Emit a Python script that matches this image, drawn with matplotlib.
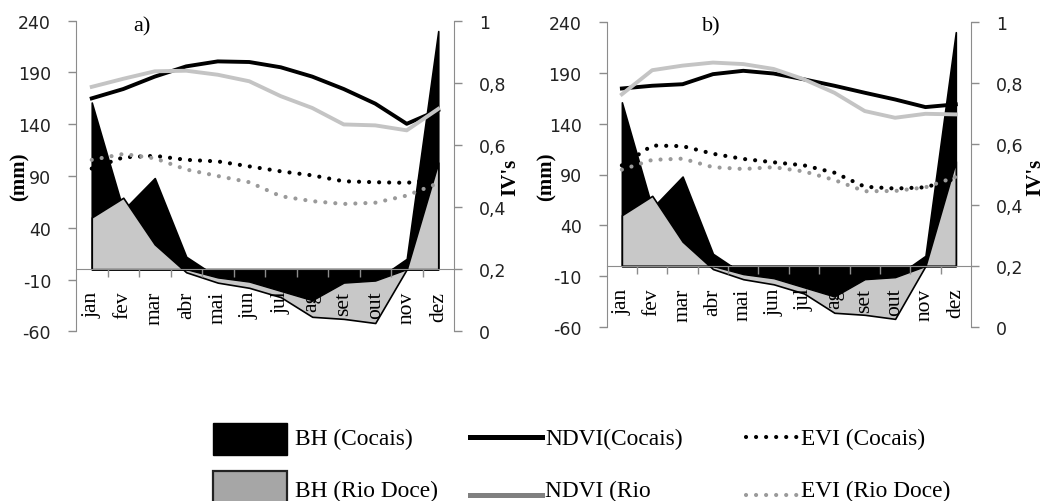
import matplotlib.pyplot as plt
import numpy as np
from matplotlib.patches import Rectangle
from matplotlib.lines import Line2D

months = ['jan', 'fev', 'mar', 'abr', 'mai', 'jun', 'jul', 'ag', 'set', 'out', 'nov', 'dez']

# balanço hídrico (mm) - same in both panels
bh_cocais = [161, 57, 88, 12, -8, -12, -21, -30, -13, -11, 10, 230]
bh_riodoce = [50, 69, 24, -3, -13, -18, -27, -46, -48, -52, 0, 103]

# panel a) vegetation indices
ndvi_cocais_a = [0.75, 0.78, 0.82, 0.853, 0.869, 0.867, 0.85, 0.82, 0.78, 0.733, 0.668, 0.712]
ndvi_riodoce_a = [0.787, 0.813, 0.837, 0.839, 0.826, 0.805, 0.757, 0.719, 0.666, 0.663, 0.647, 0.716]
evi_cocais_a = [0.524, 0.56, 0.565, 0.552, 0.547, 0.531, 0.515, 0.502, 0.483, 0.48, 0.478, 0.49]
evi_riodoce_a = [0.552, 0.571, 0.557, 0.521, 0.5, 0.48, 0.435, 0.419, 0.41, 0.414, 0.437, 0.477]

# panel b) vegetation indices
ndvi_cocais_b = [0.782, 0.791, 0.796, 0.829, 0.84, 0.831, 0.812, 0.791, 0.768, 0.746, 0.721, 0.73]
ndvi_riodoce_b = [0.763, 0.842, 0.857, 0.867, 0.862, 0.846, 0.812, 0.768, 0.708, 0.686, 0.699, 0.697]
evi_cocais_b = [0.53, 0.595, 0.593, 0.568, 0.551, 0.54, 0.53, 0.506, 0.46, 0.454, 0.458, 0.487]
evi_riodoce_b = [0.516, 0.548, 0.552, 0.524, 0.518, 0.524, 0.51, 0.482, 0.445, 0.446, 0.458, 0.492]

mm_ticks = [-60, -10, 40, 90, 140, 190, 240]
iv_ticks = [0, 0.2, 0.4, 0.6, 0.8, 1]
iv_labels = ['0', '0,2', '0,4', '0,6', '0,8', '1']

W, H = 1057, 502
AXC = '#8c8c8c'
SERIF = 'Liberation Serif'


def fx(p):
    return p / W


def fy(p):
    return 1 - p / H


def panel(fig, rect, ndvi_c, ndvi_r, evi_c, evi_r):
    ax = fig.add_axes(rect)
    x = np.arange(len(months))
    bc = np.array(bh_cocais, dtype=float)
    br = np.array(bh_riodoce, dtype=float)

    ax.fill_between(x, 0, bc, facecolor='black', edgecolor='black', lw=1.2)
    ax.fill_between(x, 0, br, facecolor='#c8c8c8', edgecolor='black', lw=1.2)
    ax.fill_between(x, 0, np.minimum(bc, 0), facecolor='black', edgecolor='black', lw=1.0)

    ax.set_xlim(-0.5, 11.5)
    ax.set_ylim(-60, 240)
    ax.set_yticks(mm_ticks)
    ax.set_yticklabels([str(t) for t in mm_ticks], fontsize=12.5, color='#222222')
    ax.tick_params(axis='y', direction='out', length=6, width=1, color=AXC, pad=12)

    ax.spines['top'].set_visible(False)
    ax.spines['right'].set_visible(False)
    ax.spines['left'].set_color(AXC)
    ax.spines['bottom'].set_position(('data', 0))
    ax.spines['bottom'].set_color(AXC)

    ax.set_xticks(x)
    ax.set_xticklabels(months, rotation=90, family=SERIF, fontsize=15.5)
    ax.set_xticks(np.arange(0.5, 11, 1), minor=True)
    ax.tick_params(axis='x', which='major', length=0, pad=15.5)
    ax.tick_params(axis='x', which='minor', direction='out', length=6, width=1, color=AXC)

    ax2 = ax.twinx()
    ax2.plot(x, ndvi_c, color='black', lw=2.8)
    ax2.plot(x, ndvi_r, color='#c4c4c4', lw=2.8)
    ax2.plot(x, evi_c, color='black', lw=3.0, ls=(0, (0.01, 2.4)), dash_capstyle='round')
    ax2.plot(x, evi_r, color='#9a9a9a', lw=3.0, ls=(0, (0.01, 2.4)), dash_capstyle='round')
    ax2.set_ylim(0, 1)
    ax2.set_yticks(iv_ticks)
    ax2.set_yticklabels(iv_labels, fontsize=12.5, color='#222222')
    ax2.tick_params(axis='y', direction='out', length=6, width=1, color=AXC, pad=12)
    for s in ['top', 'left', 'bottom']:
        ax2.spines[s].set_visible(False)
    ax2.spines['right'].set_color(AXC)
    return ax, ax2


fig = plt.figure(figsize=(W / 100, H / 100), dpi=100)

panel(fig, [fx(76), fy(332.3), fx(454 - 76), 310.6 / H],
      ndvi_cocais_a, ndvi_riodoce_a, evi_cocais_a, evi_riodoce_a)
panel(fig, [fx(606.7), fy(328), fx(971 - 606.7), 305 / H],
      ndvi_cocais_b, ndvi_riodoce_b, evi_cocais_b, evi_riodoce_b)

# panel letters and axis titles
fig.text(fx(142), fy(27), 'a)', family=SERIF, fontsize=16, ha='center', va='center')
fig.text(fx(711), fy(27), 'b)', family=SERIF, fontsize=16, ha='center', va='center')
for xl, xr in [(20, 510), (547, 1035)]:
    fig.text(fx(xl), fy(177), '(mm)', family=SERIF, fontsize=15, fontweight='bold',
             rotation=90, ha='center', va='center')
    fig.text(fx(xr), fy(177), "IV's", family=SERIF, fontsize=15, fontweight='bold',
             rotation=90, ha='center', va='center')

# legend, drawn by hand like the original (second row is cut at the bottom)
fs_leg = 16.8
fig.add_artist(Rectangle((fx(213), fy(456)), fx(74), 32 / H, transform=fig.transFigure,
                         facecolor='black', edgecolor='black', lw=1))
fig.add_artist(Rectangle((fx(213), fy(510)), fx(74), 38 / H, transform=fig.transFigure,
                         facecolor='#a6a6a6', edgecolor='#222222', lw=1.6))
fig.text(fx(295), fy(445.5), 'BH (Cocais)', family=SERIF, fontsize=fs_leg, va='baseline')
fig.text(fx(295), fy(497.5), 'BH (Rio Doce)', family=SERIF, fontsize=fs_leg, va='baseline')

fig.add_artist(Line2D([fx(470), fx(542)], [fy(438), fy(438)], transform=fig.transFigure,
                      color='black', lw=3.6))
fig.add_artist(Line2D([fx(470), fx(542)], [fy(496), fy(496)], transform=fig.transFigure,
                      color='#808080', lw=3.6))
fig.text(fx(545), fy(445.5), 'NDVI(Cocais)', family=SERIF, fontsize=fs_leg, va='baseline')
fig.text(fx(545), fy(497.5), 'NDVI (Rio', family=SERIF, fontsize=fs_leg, va='baseline')

fig.add_artist(Line2D([fx(746), fx(797)], [fy(438), fy(438)], transform=fig.transFigure,
                      color='black', lw=3.0, ls=(0, (0.01, 2.4)), dash_capstyle='round'))
fig.add_artist(Line2D([fx(746), fx(797)], [fy(496), fy(496)], transform=fig.transFigure,
                      color='#9a9a9a', lw=3.0, ls=(0, (0.01, 2.4)), dash_capstyle='round'))
fig.text(fx(801), fy(445.5), 'EVI (Cocais)', family=SERIF, fontsize=fs_leg, va='baseline')
fig.text(fx(801), fy(497.5), 'EVI (Rio Doce)', family=SERIF, fontsize=fs_leg, va='baseline')

fig.savefig('out.png', dpi=100)
